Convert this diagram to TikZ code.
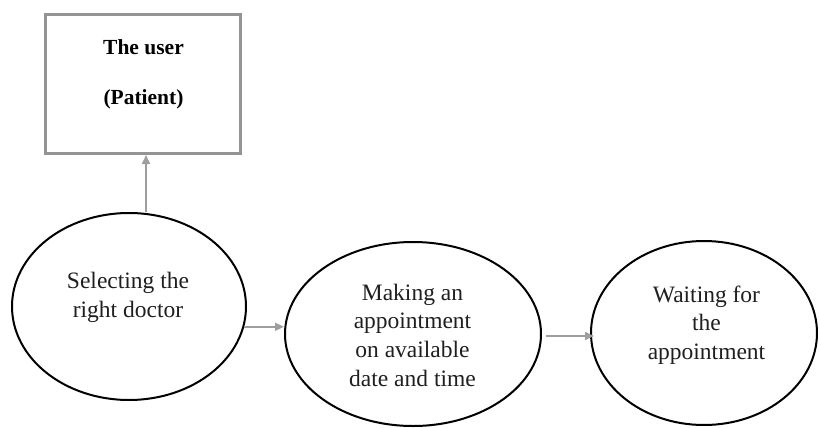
\documentclass[tikz,border=0pt]{standalone}
\usepackage{fontspec}
\setmainfont{Liberation Serif}
\usetikzlibrary{shapes.geometric,arrows.meta}
\begin{document}
\begin{tikzpicture}[x=1pt,y=-1pt,
  stage/.style={ellipse, draw=black, line width=2pt, inner sep=0pt},
  ln/.style={anchor=base, inner sep=0pt, font=\fontsize{23.5}{28}\selectfont, text=black!88},
  boldln/.style={anchor=base, inner sep=0pt, font=\bfseries\fontsize{21.5}{26}\selectfont, text=black},
  flow/.style={draw=black!38, line width=1.6pt, -{Triangle[length=9pt,width=8pt]}},
  ]
\useasboundingbox (0,0) rectangle (819,428);

% actor box
\node[draw=black!42, line width=3pt, minimum width=195pt, minimum height=139pt, inner sep=0pt] (user) at (143,84) {};
\node[boldln] (userA) at (143.5,55) {The user};
\node[boldln] (userB) at (143.5,104) {(Patient)};

% process stages
\node[stage, minimum width=234pt, minimum height=187pt] (e1) at (129,306.5) {};
\node[stage, minimum width=256pt, minimum height=184pt] (e2) at (413,334) {};
\node[stage, minimum width=226pt, minimum height=184pt] (e3) at (704,333) {};

\node[ln] (e1a) at (128,288) {Selecting the};
\node[ln] (e1b) at (128,317) {right doctor};

\node[ln] (e2a) at (412.5,300) {Making an};
\node[ln] (e2b) at (412.5,328.5) {appointment};
\node[ln] (e2c) at (412.5,357.5) {on available};
\node[ln] (e2d) at (412.5,386.5) {date and time};

\node[ln] (e3a) at (706.5,302) {Waiting for};
\node[ln] (e3b) at (706.5,330.5) {the};
\node[ln] (e3c) at (706.5,359) {appointment};

% connectors
\draw[flow] ([xshift=17pt]e1.north) -- ([xshift=17pt]e1.north |- user.south);
\draw[flow] (e1.-10.7) -- (e1.-10.7 -| e2.west);
\draw[flow] ([xshift=4pt,yshift=-2pt]e2.east) -- ([xshift=4pt,yshift=-2pt]e2.east -| e3.west);
\end{tikzpicture}
\end{document}
